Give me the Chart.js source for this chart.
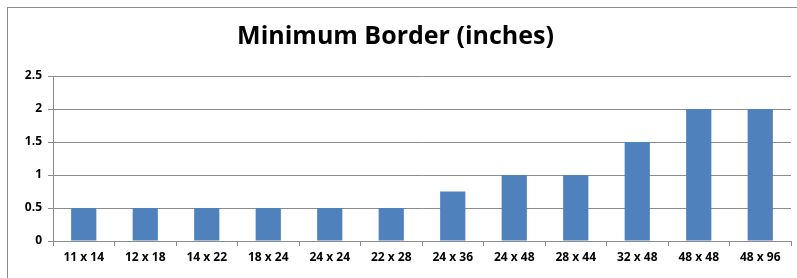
<!DOCTYPE html>
<html>
<head>
<meta charset="utf-8">
<script src="https://cdn.jsdelivr.net/npm/chart.js@4"></script>
<style>
    body { margin: 0; background: #fff; }
    #frame { position: absolute; left: 7px; top: 7px; width: 800px; height: 280px; border: 1px solid #8c8c8c; }
    #wrap { position: absolute; left: 0; top: 0; width: 797px; height: 278px; }
</style>
</head>
<body>
<div id="frame"></div>
<div id="wrap"><canvas id="borderChart"></canvas></div>
<script>
    const categories = ["11 x 14", "12 x 18", "14 x 22", "18 x 24", "24 x 24", "22 x 28",
        "24 x 36", "24 x 48", "28 x 44", "32 x 48", "48 x 48", "48 x 96"];
    const borderValues = [0.5, 0.5, 0.5, 0.5, 0.5, 0.5, 0.75, 1, 1, 1.5, 2, 2];
    const yTicks = [0, 0.5, 1, 1.5, 2, 2.5];

    const gridGray = "#8c8c8c";
    const labelFont = { family: "Open Sans", size: 12, weight: "bold" };

    const ctx = document.getElementById("borderChart");
    new Chart(ctx, {
        type: "bar",
        data: {
            labels: categories,
            datasets: [{
                label: "Minimum Border (inches)",
                data: borderValues,
                backgroundColor: "#4f81bd",
                barPercentage: 0.41,
                categoryPercentage: 1
            }]
        },
        options: {
            responsive: true,
            maintainAspectRatio: false,
            animation: false,
            layout: { padding: { left: 0, right: 6, top: 0, bottom: 0 } },
            plugins: {
                legend: { display: false },
                tooltip: { enabled: false },
                title: {
                    display: true,
                    text: "Minimum Border (inches)",
                    color: "#000",
                    font: { family: "Open Sans", size: 25, weight: "bold", lineHeight: 1.3 },
                    padding: { top: 21, bottom: 22.5 }
                }
            },
            scales: {
                x: {
                    grid: { display: true, drawOnChartArea: false, drawTicks: true, tickLength: 5, color: gridGray, offset: true },
                    border: { display: true, color: gridGray },
                    ticks: { color: "#000", font: labelFont, padding: 4, maxRotation: 0, autoSkip: false },
                    afterFit: function (scale) { scale.height = 37; }
                },
                y: {
                    min: 0,
                    max: 2.5,
                    afterBuildTicks: function (scale) {
                        scale.ticks = yTicks.map(v => ({ value: v }));
                    },
                    grid: { color: gridGray, tickLength: 5, drawTicks: true },
                    border: { display: true, color: gridGray },
                    ticks: {
                        color: "#000", font: labelFont, padding: 6,
                        callback: function (value) { return String(value); }
                    },
                    afterFit: function (scale) { scale.width = 53; }
                }
            }
        }
    });
</script>
</body>
</html>
